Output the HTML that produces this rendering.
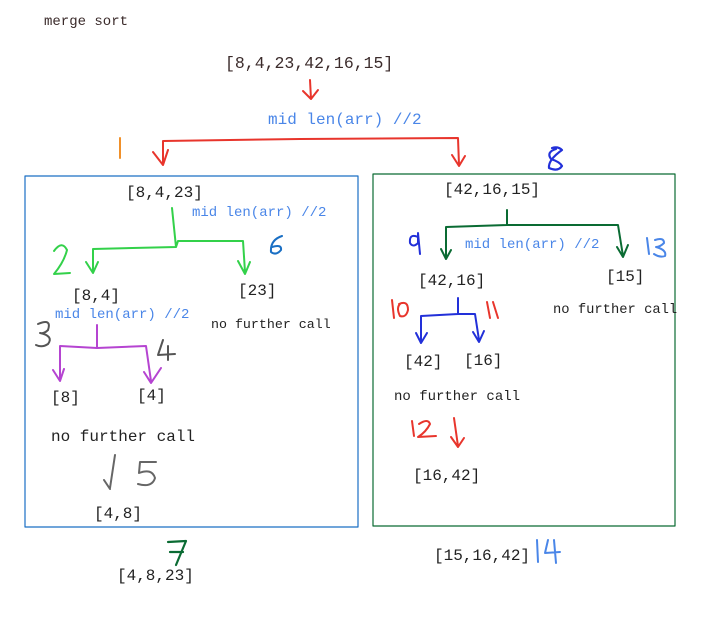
<!DOCTYPE html>
<html><head><meta charset="utf-8"><style>
html,body{margin:0;padding:0;background:#fff;width:727px;height:630px;overflow:hidden}
svg text{font-family:"Liberation Mono",monospace}
</style></head><body>
<svg width="727" height="630" viewBox="0 0 727 630" xmlns="http://www.w3.org/2000/svg">
<g fill="none" stroke-linecap="round" stroke-linejoin="round">
<rect x="25" y="176" width="333" height="351" stroke="#1a6fc4" stroke-width="1.2"/>
<rect x="373" y="174" width="302" height="352" stroke="#0a6b33" stroke-width="1.2"/>
<path d="M310 80 L311 99 M303 91 L311 99 L318 90" stroke="#e8352c" stroke-width="2"/>
<path d="M163 165 L163 141 L300 139 L458 138 L459 165 M153 152 L163 165 L168 150 M452 155 L459 166 L465 156" stroke="#e8352c" stroke-width="2"/>
<path d="M120 138 L120 158" stroke="#f0902a" stroke-width="2"/>
<path d="M172 208 L176 247 L93 249 L93 272 M86 262 L93 273 L98 262 M176 247 L178 241 L243 241 L245 272 M238 261 L245 274 L250 262" stroke="#33d14a" stroke-width="2"/>
<path d="M54 251 Q62 240 67 250 Q64 262 54 274 L70 273" stroke="#33d14a" stroke-width="2"/>
<path d="M282 236 Q270 240 271 252 Q276 256 281 250 Q282 244 272 247" stroke="#1a6fc4" stroke-width="2"/>
<path d="M97 325 L97 348 L60 346 L60 380 M53 370 L60 381 L64 369 M97 348 L146 346 L151 381 M144 372 L151 383 L161 368" stroke="#b544d1" stroke-width="2"/>
<path d="M38 324 Q52 318 48 330 Q44 334 40 333 Q54 336 48 344 Q42 348 36 345" stroke="#555" stroke-width="2"/>
<path d="M163 340 L158 355 L175 354 M168 346 L168 360" stroke="#555" stroke-width="2"/>
<path d="M115 455 L110 488 M104 480 L110 489 M156 462 L140 462 L139 473 Q152 468 155 478 Q152 488 138 484" stroke="#666" stroke-width="2"/>
<path d="M168 542 L186 541 L176 565 M170 552 L183 552" stroke="#0a6b33" stroke-width="2.2"/>
<path d="M556 149 Q546 152 551 159 Q560 162 562 166 Q558 172 549 168 Q548 160 562 150 Q558 146 552 148" stroke="#2230d9" stroke-width="2.2"/>
<path d="M507 210 L507 225 L446 227 L446 258 M441 249 L446 259 L451 250 M507 225 L618 225 L623 256 M617 247 L623 257 L628 245" stroke="#0a6b33" stroke-width="2"/>
<path d="M418 237 Q409 233 410 243 Q413 248 418 243 L418 233 L420 254" stroke="#2230d9" stroke-width="2"/>
<path d="M647 238 L649 254 M655 240 Q664 237 664 243 Q660 247 656 247 Q667 250 665 256 Q660 258 654 254" stroke="#4a86e8" stroke-width="2"/>
<path d="M458 298 L458 314 L421 316 L421 342 M416 333 L421 343 L427 333 M458 314 L475 314 L479 340 M473 332 L479 342 L484 331" stroke="#2230d9" stroke-width="2"/>
<path d="M392 300 L394 318 M399 304 Q408 300 408 310 Q406 318 400 316 Q396 308 400 304" stroke="#e8352c" stroke-width="2"/>
<path d="M487 302 L490 318 M493 302 L498 318" stroke="#e8352c" stroke-width="2"/>
<path d="M412 421 L414 436 M419 424 Q428 418 430 424 Q426 432 418 437 L436 436 M454 418 L458 446 M451 437 L458 447 L464 438" stroke="#e8352c" stroke-width="2"/>
<path d="M537 540 L538 562 M548 540 L545 553 L560 552 M554 540 L556 563" stroke="#4a86e8" stroke-width="2"/>
</g>
<g font-size="16" fill="#222">
<text x="44" y="25" font-size="14" fill="#3a2a2a">merge sort</text>
<text x="225" y="68" font-size="16.5" fill="#3b2b2b">[8,4,23,42,16,15]</text>
<text x="268" y="124" fill="#4a86e8">mid len(arr) //2</text>
<text x="126" y="197">[8,4,23]</text>
<text x="192" y="216" font-size="14" fill="#4a86e8">mid len(arr) //2</text>
<text x="72" y="300">[8,4]</text>
<text x="238" y="295">[23]</text>
<text x="55" y="318" font-size="14" fill="#4a86e8">mid len(arr) //2</text>
<text x="211" y="328" font-size="13.3">no further call</text>
<text x="51" y="402">[8]</text>
<text x="137" y="400">[4]</text>
<text x="51" y="441">no further call</text>
<text x="94" y="518">[4,8]</text>
<text x="117" y="580">[4,8,23]</text>
<text x="444" y="194">[42,16,15]</text>
<text x="465" y="248" font-size="14" fill="#4a86e8">mid len(arr) //2</text>
<text x="418" y="285">[42,16]</text>
<text x="606" y="281">[15]</text>
<text x="553" y="313" font-size="13.8">no further call</text>
<text x="404" y="366">[42]</text>
<text x="464" y="365">[16]</text>
<text x="394" y="400" font-size="14">no further call</text>
<text x="413" y="480">[16,42]</text>
<text x="434" y="560">[15,16,42]</text>
</g>
</svg>
</body></html>
